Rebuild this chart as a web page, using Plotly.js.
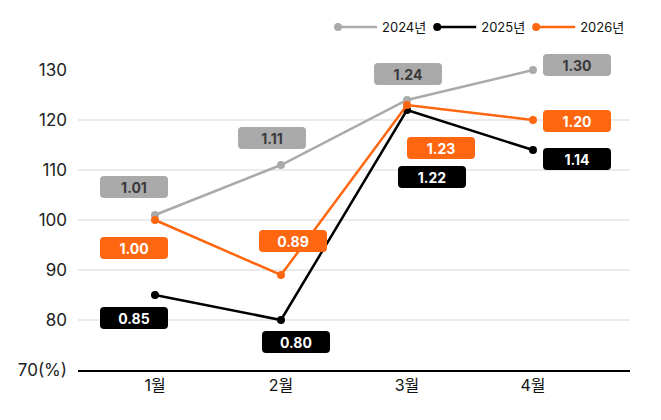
<!DOCTYPE html>
<html><head><meta charset="utf-8">
<script src="https://cdn.plot.ly/plotly-3.0.1.min.js"></script>
<style>html,body{margin:0;padding:0;background:#fff}</style>
</head><body>
<div id="chart" style="width:661px;height:420px"></div>
<script>
const months = ['1월', '2월', '3월', '4월'];
const seriesNames = ['2024년', '2025년', '2026년'];
const values2024 = [101, 111, 124, 130];
const values2025 = [85, 80, 122, 114];
const values2026 = [100, 89, 123, 120];
const labels2024 = ['1.01', '1.11', '1.24', '1.30'];
const labels2025 = ['0.85', '0.80', '1.22', '1.14'];
const labels2026 = ['1.00', '0.89', '1.23', '1.20'];
const yTickVals = [70, 80, 90, 100, 110, 120, 130];
const yTickText = ['70(%)', '80', '90', '100', '110', '120', '130'];

const colors = ['#aaaaaa', '#000000', '#ff6610'];
const textColors = ['#3a3a3a', '#ffffff', '#ffffff'];
// pixel offsets of the value boxes relative to their points
const offsets = [
  [[-21, 28], [-9, 27], [1, 26], [44, 5]],
  [[-21, -23], [15, -22], [25, -67], [44, -9]],
  [[-21, -28], [12, 34], [34, -43], [44, -1]]
];

const allValues = [values2024, values2025, values2026];
const allLabels = [labels2024, labels2025, labels2026];

const traces = allValues.map((v, i) => ({
  type: 'scatter', mode: 'lines+markers', name: seriesNames[i],
  x: months, y: v,
  line: {color: colors[i], width: 2.5},
  marker: {color: colors[i], size: 8},
  cliponaxis: false
}));

const annotations = [];
allValues.forEach((v, i) => {
  v.forEach((val, j) => {
    annotations.push({
      x: months[j], y: val, xref: 'x', yref: 'y',
      text: '<b>' + allLabels[i][j] + '</b>', showarrow: false,
      xshift: offsets[i][j][0], yshift: offsets[i][j][1],
      bgcolor: colors[i], width: 64, height: 18, borderpad: 2, borderwidth: 0,
      font: {family: 'Inter, "Noto Sans CJK KR", sans-serif', size: 14, color: textColors[i]}
    });
  });
});

const layout = {
  width: 661, height: 420,
  margin: {l: 78, r: 31, t: 70, b: 50, autoexpand: false},
  paper_bgcolor: '#fff', plot_bgcolor: '#fff',
  font: {family: 'Inter, "Noto Sans CJK KR", sans-serif', color: '#222'},
  showlegend: true,
  legend: {orientation: 'h', x: 1, xanchor: 'right', y: 1.143, yanchor: 'middle',
           font: {size: 13, color: '#111'}, itemwidth: 40, tracegroupgap: 0},
  xaxis: {type: 'category', range: [-0.611, 3.77], showgrid: false, zeroline: false,
          showline: true, linecolor: '#000', linewidth: 2, ticks: '', automargin: false,
          tickfont: {size: 16, color: '#111'}, fixedrange: true},
  yaxis: {range: [70, 130], tickvals: yTickVals, ticktext: yTickText, automargin: false,
          showgrid: true, gridcolor: '#ebebeb', gridwidth: 1.5, zeroline: false,
          showline: false, ticks: '', ticklabelstandoff: 10,
          tickfont: {size: 17, color: '#222'}, fixedrange: true},
  annotations: annotations
};

Plotly.newPlot('chart', traces, layout, {displayModeBar: false, staticPlot: true}).then(() => {
  document.querySelectorAll('.annotation rect.bg').forEach(r => {
    r.setAttribute('rx', 4); r.setAttribute('ry', 4);
  });
  // put the legend marker at the left end of the legend line
  document.querySelectorAll('.legend .legendpoints path.scatterpts').forEach(p => {
    p.setAttribute('transform', 'translate(6,0)');
  });
});
</script>
</body></html>
